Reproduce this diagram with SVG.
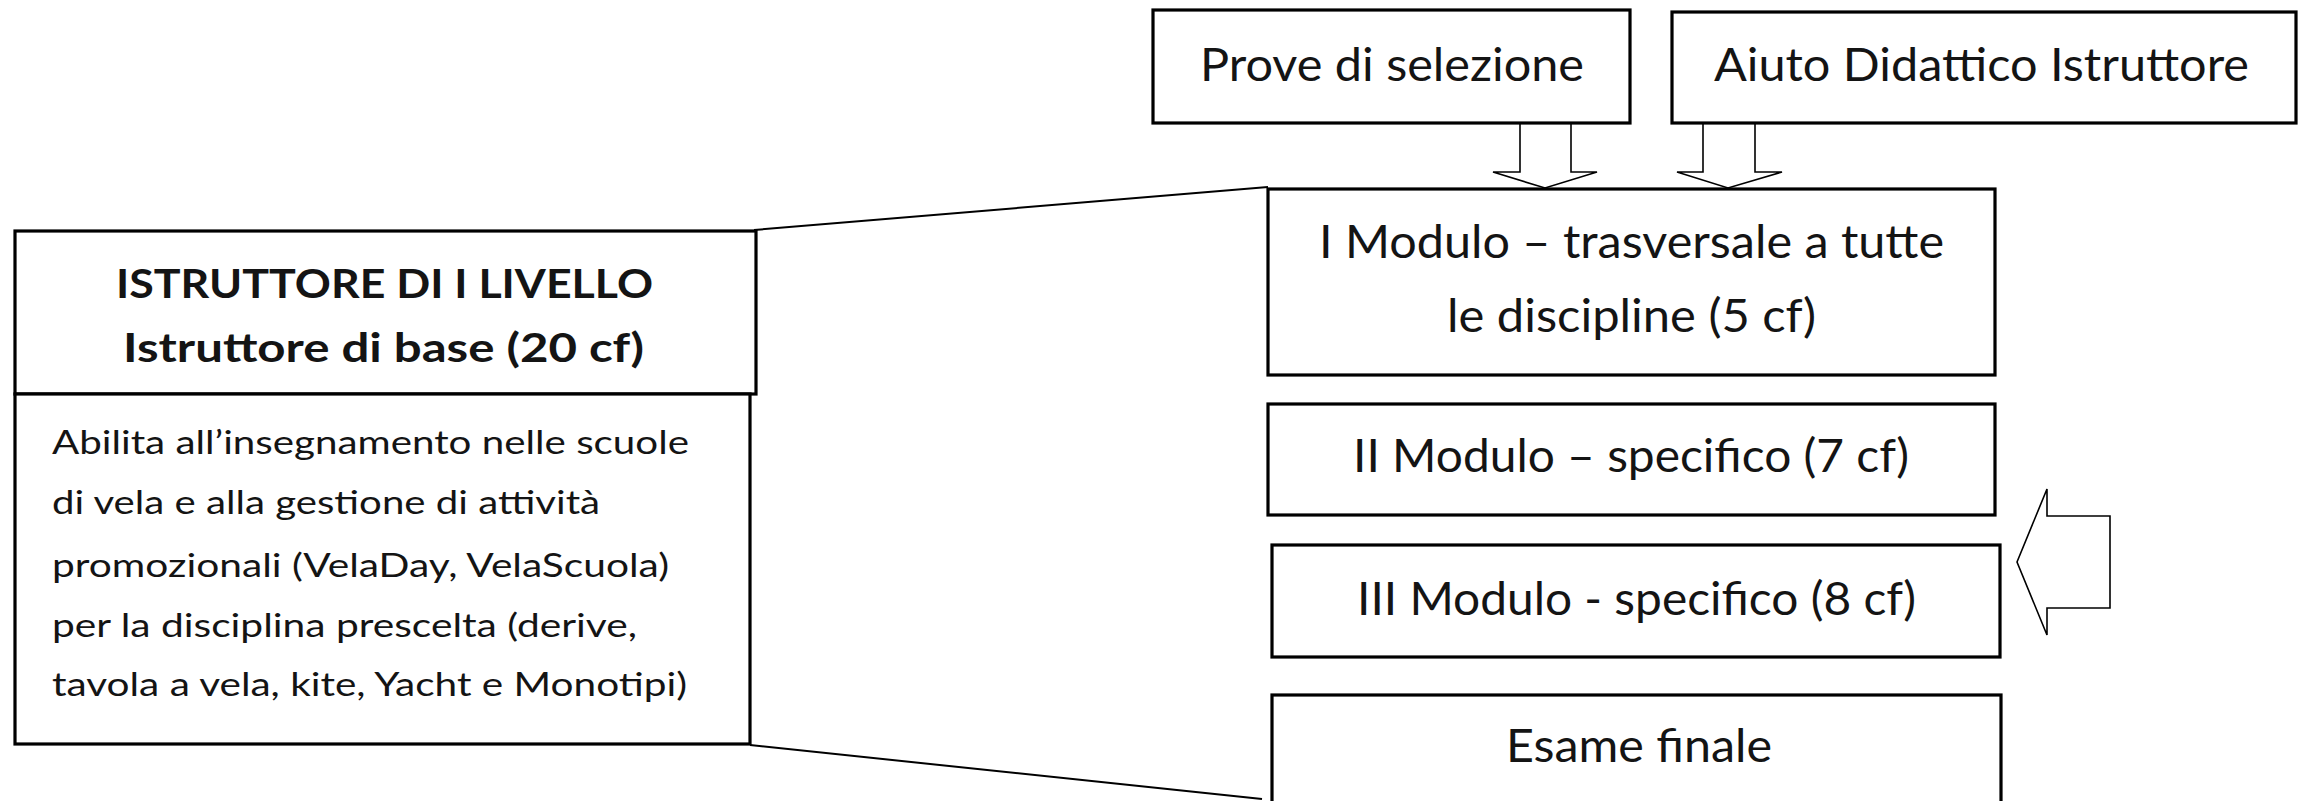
<svg xmlns="http://www.w3.org/2000/svg" width="2310" height="801" viewBox="0 0 2310 801">
<style>
.box{fill:#fff;stroke:#000;stroke-width:3.2}
.t{font-family:Lato,"Open Sans","Liberation Sans",sans-serif;fill:#141414;font-size:46px}
.b{font-family:Lato,"Open Sans","Liberation Sans",sans-serif;fill:#141414;font-size:40px;font-weight:bold}
.s{font-family:Lato,"Open Sans","Liberation Sans",sans-serif;fill:#141414;font-size:32px}
.ln{fill:none;stroke:#000;stroke-width:2}
.arr{fill:#fff;stroke:#000;stroke-width:1.6;stroke-linejoin:miter}
</style>
<rect width="2310" height="801" fill="#fff"/>
<g id="connectors">
<line class="ln" x1="754" y1="230" x2="1268" y2="187"/>
<line class="ln" x1="750" y1="745" x2="1262" y2="799"/>
<polygon class="arr" points="1520,123 1520,172 1493,172 1545,188 1597,172 1571,172 1571,123"/>
<polygon class="arr" points="1703,123 1703,172 1677,172 1728,188 1782,172 1755,172 1755,123"/>
<polygon class="arr" points="2017,562 2047,489 2047,516 2110,516 2110,608 2047,608 2047,635"/>
</g>
<g id="prove">
<rect class="box" x="1153" y="10" width="477" height="113"/>
<text class="t" x="1200" y="81" textLength="384" lengthAdjust="spacingAndGlyphs">Prove di selezione</text>
</g>
<g id="aiuto">
<rect class="box" x="1672" y="12" width="624" height="111"/>
<text class="t" x="1714" y="81" textLength="535" lengthAdjust="spacingAndGlyphs">Aiuto Didattico Istruttore</text>
</g>
<g id="modulo1">
<rect class="box" x="1268" y="189" width="727" height="186"/>
<text class="t" x="1319" y="258" textLength="625" lengthAdjust="spacingAndGlyphs">I Modulo – trasversale a tutte</text>
<text class="t" x="1447" y="332" textLength="369" lengthAdjust="spacingAndGlyphs">le discipline (5 cf)</text>
</g>
<g id="modulo2">
<rect class="box" x="1268" y="404" width="727" height="111"/>
<text class="t" x="1353" y="472" textLength="556" lengthAdjust="spacingAndGlyphs">II Modulo – specifico (7 cf)</text>
</g>
<g id="modulo3">
<rect class="box" x="1272" y="545" width="728" height="112"/>
<text class="t" x="1357" y="615" textLength="559" lengthAdjust="spacingAndGlyphs">III Modulo - specifico (8 cf)</text>
</g>
<g id="esame">
<rect class="box" x="1272" y="695" width="729" height="140"/>
<text class="t" x="1506" y="762" textLength="266" lengthAdjust="spacingAndGlyphs">Esame finale</text>
</g>
<g id="istruttore">
<rect class="box" x="15" y="231" width="741" height="163"/>
<text class="b" x="116" y="298" textLength="537" lengthAdjust="spacingAndGlyphs">ISTRUTTORE DI I LIVELLO</text>
<text class="b" x="123" y="362" textLength="521" lengthAdjust="spacingAndGlyphs">Istruttore di base (20 cf)</text>
</g>
<g id="descrizione">
<rect class="box" x="15" y="394" width="735" height="350"/>
<text class="s" x="52" y="454" textLength="637" lengthAdjust="spacingAndGlyphs">Abilita all’insegnamento nelle scuole</text>
<text class="s" x="52" y="514" textLength="548" lengthAdjust="spacingAndGlyphs">di vela e alla gestione di attività</text>
<text class="s" x="52" y="577" textLength="617" lengthAdjust="spacingAndGlyphs">promozionali (VelaDay, VelaScuola)</text>
<text class="s" x="52" y="637" textLength="585" lengthAdjust="spacingAndGlyphs">per la disciplina prescelta (derive,</text>
<text class="s" x="52" y="696" textLength="635" lengthAdjust="spacingAndGlyphs">tavola a vela, kite, Yacht e Monotipi)</text>
</g>
</svg>
